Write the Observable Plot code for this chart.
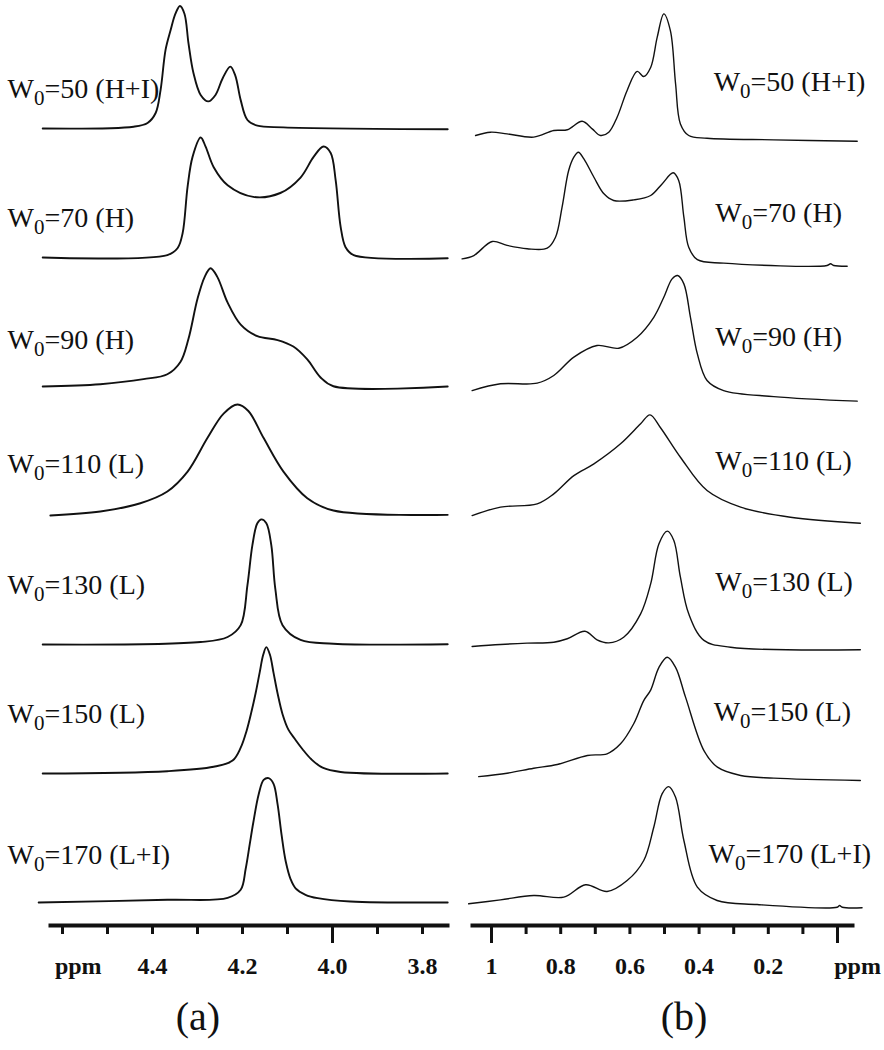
<!DOCTYPE html>
<html><head><meta charset="utf-8">
<script src="https://cdn.jsdelivr.net/npm/d3@7"></script>
<script src="https://cdn.jsdelivr.net/npm/@observablehq/plot@0.6"></script>
<style>
html,body{margin:0;padding:0;background:#fff;}
#wrap{position:relative;width:884px;height:1050px;overflow:hidden;background:#fff;}
.panel{position:absolute;top:0;}
.cap{position:absolute;top:997px;width:100px;text-align:center;font-family:'Liberation Serif','Times New Roman',Times,serif;font-size:40px;line-height:40px;color:#111;}
</style></head><body>
<div id="wrap">
  <div id="pa" class="panel" style="left:0"></div>
  <div id="pb" class="panel" style="left:450px"></div>
  <div class="cap" style="left:148px">(a)</div>
  <div class="cap" style="left:634px">(b)</div>
</div>
<script>
// ---------- data ----------
const W0 = [50, 70, 90, 110, 130, 150, 170];
const phase = ["H+I", "H", "H", "L", "L", "L", "L+I"];

// panel (a): [ppm, relative intensity]
const a50 = [[4.644,0],[4.442,0.014],[4.411,0.043],[4.393,0.12],[4.382,0.30],[4.371,0.61],[4.360,0.76],[4.349,0.89],[4.339,0.95],[4.329,0.89],[4.320,0.66],[4.309,0.43],[4.293,0.26],[4.276,0.21],[4.260,0.26],[4.244,0.39],[4.227,0.48],[4.216,0.41],[4.204,0.22],[4.189,0.066],[4.167,0.022],[4.109,0.009],[3.744,-0.006]];
const a70 = [[4.644,0],[4.367,0.019],[4.344,0.074],[4.333,0.19],[4.322,0.55],[4.311,0.78],[4.293,0.93],[4.282,0.86],[4.264,0.70],[4.233,0.56],[4.176,0.47],[4.116,0.50],[4.071,0.62],[4.042,0.78],[4.020,0.86],[4.004,0.81],[3.993,0.60],[3.982,0.24],[3.971,0.08],[3.953,0.019],[3.744,-0.006]];
const a90 = [[4.644,0],[4.516,0.018],[4.420,0.057],[4.367,0.095],[4.338,0.19],[4.320,0.37],[4.300,0.68],[4.284,0.85],[4.271,0.917],[4.256,0.85],[4.233,0.65],[4.204,0.48],[4.167,0.39],[4.122,0.36],[4.087,0.31],[4.056,0.21],[4.027,0.072],[3.998,0.002],[3.744,0]];
const a110 = [[4.627,0],[4.516,0.031],[4.427,0.095],[4.367,0.186],[4.322,0.34],[4.278,0.60],[4.242,0.79],[4.211,0.86],[4.187,0.81],[4.153,0.60],[4.109,0.34],[4.056,0.134],[3.998,0.039],[3.744,0.005]];
const a130 = [[4.644,0],[4.293,0.019],[4.233,0.058],[4.204,0.15],[4.189,0.46],[4.178,0.77],[4.167,0.94],[4.158,0.97],[4.147,0.94],[4.136,0.77],[4.127,0.43],[4.111,0.15],[4.071,0.035],[3.998,0.006],[3.744,0.002]];
const a150 = [[4.644,0],[4.367,0.018],[4.264,0.052],[4.222,0.10],[4.204,0.20],[4.191,0.33],[4.180,0.48],[4.171,0.62],[4.162,0.78],[4.154,0.92],[4.147,0.98],[4.139,0.92],[4.131,0.78],[4.122,0.62],[4.111,0.46],[4.098,0.34],[4.082,0.26],[4.067,0.19],[4.047,0.11],[4.022,0.045],[3.982,0.012],[3.744,0]];
const a170 = [[4.653,0],[4.367,0.021],[4.233,0.036],[4.204,0.099],[4.193,0.26],[4.184,0.45],[4.176,0.62],[4.164,0.84],[4.153,0.95],[4.142,0.964],[4.131,0.92],[4.122,0.76],[4.113,0.52],[4.104,0.32],[4.093,0.18],[4.082,0.11],[4.060,0.06],[4.033,0.034],[3.960,0.008],[3.744,0]];

// panel (b): [ppm, relative intensity]
const b50 = [[1.046,0.047],[1.003,0.073],[0.955,0.060],[0.878,0.034],[0.820,0.086],[0.781,0.092],[0.738,0.159],[0.709,0.099],[0.685,0.047],[0.661,0.073],[0.637,0.19],[0.608,0.40],[0.579,0.549],[0.560,0.509],[0.540,0.58],[0.521,0.817],[0.502,1.0],[0.483,0.869],[0.468,0.452],[0.454,0.138],[0.430,0.047],[0.377,0.026],[0.184,0.013],[-0.057,0.002]];
const b70 = [[1.085,0.081],[1.051,0.107],[0.998,0.217],[0.955,0.186],[0.897,0.160],[0.839,0.164],[0.815,0.25],[0.796,0.486],[0.777,0.773],[0.762,0.877],[0.749,0.916],[0.733,0.864],[0.704,0.72],[0.675,0.59],[0.647,0.538],[0.589,0.543],[0.540,0.577],[0.507,0.668],[0.475,0.755],[0.459,0.695],[0.444,0.407],[0.430,0.172],[0.405,0.074],[0.329,0.047],[0.030,0.029],[0.020,0.042],[0.011,0.029],[-0.028,0.023]];
const b90 = [[1.056,0.049],[0.974,0.102],[0.868,0.107],[0.820,0.167],[0.762,0.311],[0.695,0.402],[0.632,0.381],[0.579,0.467],[0.531,0.623],[0.502,0.780],[0.478,0.924],[0.462,0.950],[0.444,0.885],[0.425,0.623],[0.405,0.336],[0.377,0.128],[0.329,0.049],[0.184,0.002],[-0.057,-0.034]];
const b110 = [[1.056,0.070],[0.974,0.136],[0.868,0.162],[0.820,0.240],[0.762,0.383],[0.704,0.475],[0.627,0.632],[0.569,0.789],[0.542,0.859],[0.512,0.76],[0.454,0.527],[0.377,0.266],[0.280,0.136],[0.136,0.057],[-0.066,0.010]];
const b130 = [[1.056,0.044],[0.974,0.060],[0.897,0.071],[0.820,0.078],[0.781,0.105],[0.730,0.164],[0.695,0.097],[0.661,0.073],[0.618,0.117],[0.569,0.300],[0.540,0.535],[0.516,0.849],[0.492,0.948],[0.473,0.875],[0.454,0.587],[0.430,0.300],[0.386,0.092],[0.309,0.039],[-0.066,0.019]];
const b150 = [[1.037,0.025],[0.955,0.052],[0.878,0.091],[0.810,0.12],[0.723,0.191],[0.666,0.204],[0.627,0.282],[0.589,0.439],[0.560,0.621],[0.540,0.703],[0.516,0.881],[0.492,0.960],[0.468,0.881],[0.439,0.646],[0.386,0.229],[0.347,0.099],[0.280,0.034],[0.184,0.013],[-0.066,-0.005]];
const b170 = [[1.066,0.029],[0.974,0.060],[0.878,0.094],[0.791,0.081],[0.728,0.178],[0.666,0.125],[0.608,0.211],[0.560,0.368],[0.531,0.629],[0.507,0.890],[0.488,0.947],[0.468,0.864],[0.444,0.525],[0.405,0.159],[0.348,0.055],[0.232,0.023],[0.001,0.002],[-0.006,0.016],[-0.014,0.002],[-0.071,-0.002]];

// axis ticks and tick labels
const minorTicksA = [4.6, 4.5, 4.4, 4.3, 4.2, 4.1, 3.9, 3.8];
const majorTicksA = [4.0];
const tickValuesA = [4.4, 4.2, 4.0, 3.8];
const tickTextA = ["4.4", "4.2", "4.0", "3.8"];
const minorTicksB = [0.9, 0.8, 0.7, 0.6, 0.5, 0.4, 0.3, 0.2, 0.1];
const majorTicksB = [1, 0];
const tickValuesB = [1, 0.8, 0.6, 0.4, 0.2];
const tickTextB = ["1", "0.8", "0.6", "0.4", "0.2"];
const unitText = "ppm";

// ---------- layout ----------
const serif = "'Liberation Serif','Times New Roman',Times,serif";

function subscript(svg) {
  d3.select(svg).selectAll("text").each(function () {
    const m = /^W0(=.*)$/.exec(this.textContent);
    if (!m) return;
    const s = d3.select(this);
    s.text(null);
    s.append("tspan").text("W");
    s.append("tspan").attr("dy", 7).attr("font-size", 21).text("0");
    s.append("tspan").attr("dy", -7).text(m[1]);
  });
}

function panel(cfg) {
  const n = W0.length;
  const rows = [];
  cfg.spectra.forEach((s, i) => {
    const off = n - 1 - i;
    s.forEach(([ppm, v]) => rows.push({k: W0[i], ppm, y: off + v}));
  });
  const labels = W0.map((w, i) => ({
    text: `W0=${w} (${phase[i]})`,
    x: cfg.labelX[i],
    y: n - 1 - i + cfg.labelLift[i]
  }));
  const tickText = cfg.tickValues.map((v, i) => ({x: v, t: cfg.tickText[i]}))
    .concat([{x: cfg.unitAt, t: unitText}]);
  const svg = Plot.plot({
    width: cfg.width, height: 990,
    marginTop: 0, marginBottom: 65, marginLeft: cfg.ml, marginRight: cfg.mr,
    x: {domain: cfg.xDomain, range: cfg.xRange},
    y: {domain: [0, 6], range: cfg.yRange, axis: null},
    style: {background: "transparent", overflow: "visible", color: "#111"},
    marks: [
      Plot.frame({anchor: "bottom", strokeWidth: 4, stroke: "#111"}),
      Plot.axisX({ticks: cfg.minor, tickSize: 9, strokeWidth: 3, tickFormat: () => "", label: null}),
      Plot.axisX({ticks: cfg.major, tickSize: 18, strokeWidth: 3, tickFormat: () => "", label: null}),
      Plot.text(tickText, {x: "x", text: "t", frameAnchor: "bottom", lineAnchor: "bottom", dy: 48,
        fontSize: 24, fontWeight: "bold", fontFamily: serif, fill: "#111"}),
      Plot.line(rows, {x: "ppm", y: "y", z: "k", curve: "catmull-rom", stroke: "#111",
        strokeWidth: cfg.sw, strokeLinejoin: "round"}),
      Plot.text(labels, {x: "x", y: "y", text: "text", textAnchor: "start", lineAnchor: "bottom",
        fontSize: 28, fontFamily: serif, fill: "#111"})
    ]
  });
  subscript(svg);
  return svg;
}

document.getElementById("pa").appendChild(panel({
  spectra: [a50, a70, a90, a110, a130, a150, a170],
  width: 450, ml: 50, mr: 3,
  xDomain: [4.6, 3.8], xRange: [62, 422], yRange: [902, 128],
  minor: minorTicksA, major: majorTicksA, tickValues: tickValuesA, tickText: tickTextA, unitAt: 4.565,
  labelX: [4.722, 4.722, 4.722, 4.722, 4.722, 4.722, 4.722],
  labelLift: [0.24, 0.233, 0.287, 0.333, 0.388, 0.395, 0.302],
  sw: 1.9
}));

document.getElementById("pb").appendChild(panel({
  spectra: [b50, b70, b90, b110, b130, b150, b170],
  width: 434, ml: 22, mr: 32,
  xDomain: [1, 0], xRange: [41, 387], yRange: [907, 141],
  minor: minorTicksB, major: majorTicksB, tickValues: tickValuesB, tickText: tickTextB, unitAt: -0.058,
  labelX: [0.358, 0.353, 0.353, 0.353, 0.353, 0.358, 0.373],
  labelLift: [0.392, 0.366, 0.402, 0.423, 0.483, 0.464, 0.345],
  sw: 1.4
}));
</script>
</body></html>
